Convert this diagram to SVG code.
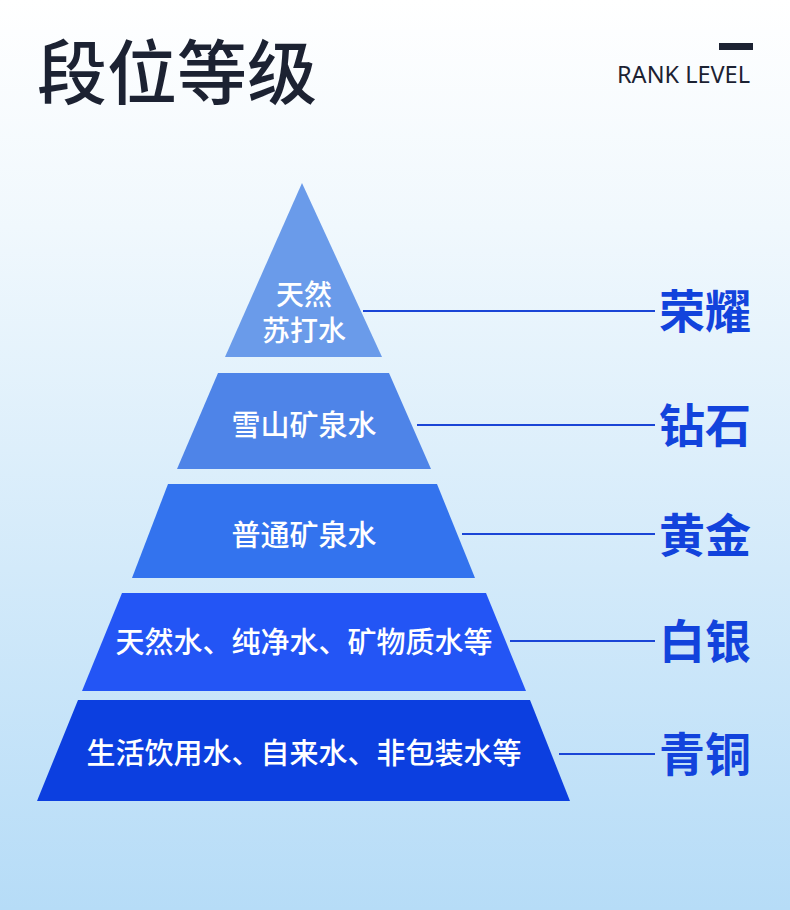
<svg xmlns="http://www.w3.org/2000/svg" width="790" height="910" viewBox="0 0 790 910">
<defs>
<linearGradient id="bg" x1="0" y1="0" x2="0" y2="1">
<stop offset="0" stop-color="#ffffff"/>
<stop offset="0.25" stop-color="#f0f8fd"/>
<stop offset="1" stop-color="#b6dcf7"/>
</linearGradient>
<style>
.t{font-family:"Noto Sans CJK SC","Noto Sans",sans-serif;font-size:29px;font-weight:500;fill:#ffffff;text-anchor:middle}
.t1{font-size:28px}
.lab{font-family:"Noto Sans CJK SC",sans-serif;font-size:46px;font-weight:700;fill:#1243dc}
.ln{stroke:#1a45d6;stroke-width:2;fill:none}
</style>
</defs>
<rect x="0" y="0" width="790" height="910" fill="url(#bg)"/>
<g id="header">
<text x="37" y="99" font-family="'Noto Sans CJK SC',sans-serif" font-size="70" font-weight="500" fill="#1c2232">段位等级</text>
<rect x="719" y="43" width="34" height="7" fill="#1c2232"/>
<text x="617" y="83" font-family="'Noto Sans','Open Sans',sans-serif" font-size="23" fill="#1c2232" textLength="133" lengthAdjust="spacingAndGlyphs">RANK LEVEL</text>
</g>
<g id="connectors">
<line class="ln" x1="363" y1="311" x2="655" y2="311"/>
<line class="ln" x1="417" y1="425" x2="655" y2="425"/>
<line class="ln" x1="462" y1="534" x2="655" y2="534"/>
<line class="ln" x1="510" y1="641" x2="655" y2="641"/>
<line class="ln" x1="559" y1="754" x2="655" y2="754"/>
</g>
<g id="tier1">
<polygon points="302,183 382,357 225,357" fill="#6a9bea"/>
<text class="t t1"><tspan x="304" y="305">天然</tspan><tspan x="304" y="341">苏打水</tspan></text>
</g>
<g id="tier2">
<polygon points="218,373 389,373 431,469 177,469" fill="#4e84e8"/>
<text class="t" x="304" y="436">雪山矿泉水</text>
</g>
<g id="tier3">
<polygon points="168,484 437,484 475,578 132,578" fill="#3373ee"/>
<text class="t" x="304" y="546">普通矿泉水</text>
</g>
<g id="tier4">
<polygon points="122,593 486,593 526,691 82,691" fill="#2355f5"/>
<text class="t" x="304" y="653">天然水、纯净水、矿物质水等</text>
</g>
<g id="tier5">
<polygon points="78,700 530,700 570,801 37,801" fill="#0c3fe0"/>
<text class="t" x="304" y="764">生活饮用水、自来水、非包装水等</text>
</g>
<g id="labels">
<text class="lab" x="659" y="328">荣耀</text>
<text class="lab" x="659" y="442">钻石</text>
<text class="lab" x="659" y="552">黄金</text>
<text class="lab" x="659" y="658">白银</text>
<text class="lab" x="659" y="771">青铜</text>
</g>
</svg>
